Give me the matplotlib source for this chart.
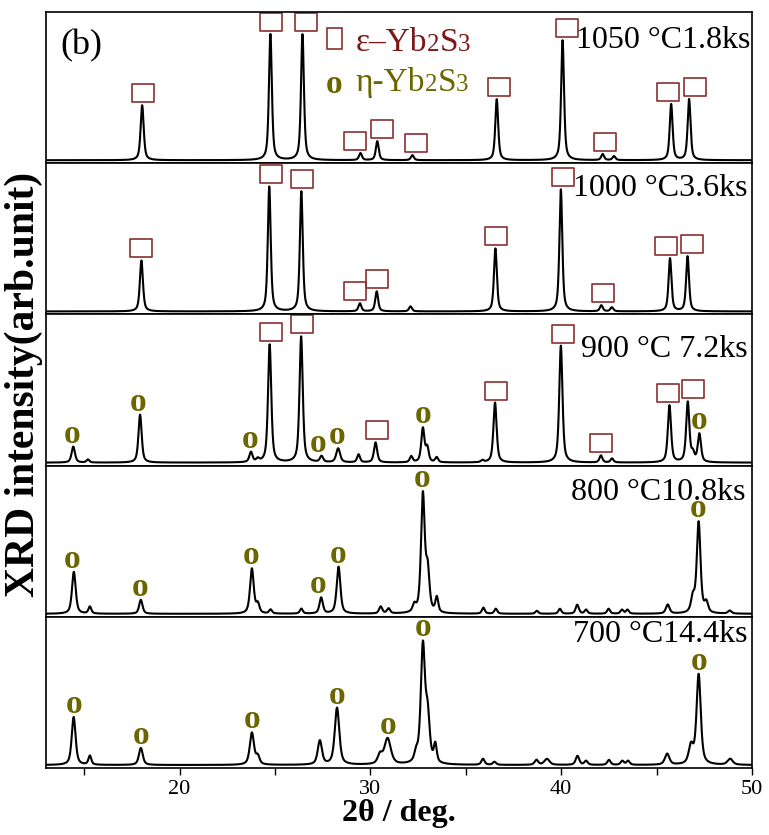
import numpy as np
import matplotlib
matplotlib.use("Agg")
from matplotlib import pyplot as plt
from matplotlib.path import Path
from matplotlib.patches import Rectangle

plt.rcParams['font.family'] = ['Liberation Serif', 'DejaVu Serif']

# sample labels, top to bottom
labels = ['1050 °C1.8ks', '1000 °C3.6ks', '900 °C 7.2ks', '800 °C10.8ks', '700 °C14.4ks']

pos_1050 = [18.04, 24.76, 26.44, 29.48, 30.36, 32.2, 36.62, 40.07, 42.17, 42.76, 45.76, 46.7]
hgt_1050 = [55, 126, 126, 7, 19, 5, 61, 120, 6, 4, 56, 61]
wid_1050 = [0.19, 0.18, 0.18, 0.18, 0.18, 0.18, 0.18, 0.18, 0.18, 0.18, 0.18, 0.18]

pos_1000 = [18.0, 24.7, 26.38, 29.45, 30.33, 32.1, 36.55, 39.98, 42.1, 42.65, 45.7, 46.62]
hgt_1000 = [51, 125, 120, 8, 20, 5, 63, 122, 6, 4, 53, 55]
wid_1000 = [0.19, 0.18, 0.18, 0.18, 0.18, 0.18, 0.18, 0.18, 0.18, 0.18, 0.18, 0.18]

pos_900 = [14.43, 15.2, 17.93, 23.74, 24.1, 24.72, 26.37, 27.44, 28.31, 29.38, 30.27, 32.14,
           32.75, 32.98, 33.47, 35.87, 36.53, 39.98, 42.08, 42.66, 45.67, 46.63, 46.9, 47.24]
hgt_900 = [16, 3, 48, 10, 3, 118, 126, 6, 14, 8, 20, 6,
           34, 14, 5, 2, 60, 117, 7, 4, 57, 60, 8, 28]
wid_900 = [0.21, 0.18, 0.2, 0.2, 0.18, 0.2, 0.2, 0.2, 0.24, 0.18, 0.2, 0.18,
           0.2, 0.18, 0.18, 0.18, 0.2, 0.2, 0.18, 0.18, 0.2, 0.2, 0.18, 0.2]

pos_800 = [14.46, 15.3, 17.97, 23.79, 24.1, 24.77, 26.38, 27.42, 28.33, 30.54, 30.95, 32.3,
           32.75, 33.0, 33.48, 35.92, 36.57, 38.72, 39.93, 40.84, 41.3, 42.48, 43.18, 43.47,
           45.58, 46.9, 47.2, 47.6, 48.83]
hgt_800 = [42, 7, 14, 45, 9, 4, 5, 16, 47, 7, 5, 7,
           118, 40, 15, 6, 5, 3, 5, 9, 4, 5, 4, 4,
           9, 15, 91, 10, 3]
wid_800 = [0.23, 0.18, 0.21, 0.23, 0.2, 0.18, 0.18, 0.21, 0.23, 0.2, 0.2, 0.2,
           0.23, 0.22, 0.18, 0.18, 0.18, 0.18, 0.18, 0.2, 0.18, 0.18, 0.18, 0.18,
           0.23, 0.23, 0.23, 0.22, 0.22]

pos_700 = [14.45, 15.3, 17.97, 23.79, 24.1, 27.35, 28.25, 30.5, 30.9, 32.4, 32.75, 33.0,
           33.4, 35.9, 36.5, 38.7, 39.25, 40.85, 41.3, 42.5, 43.2, 43.5, 45.55, 46.8,
           47.2, 48.85]
hgt_700 = [48, 9, 17, 32, 8, 24, 57, 9, 26, 9, 117, 45,
           18, 6, 3, 5, 6, 9, 4, 5, 4, 4, 11, 18,
           90, 6]
wid_700 = [0.24, 0.18, 0.24, 0.26, 0.22, 0.26, 0.28, 0.28, 0.4, 0.22, 0.26, 0.25,
           0.18, 0.2, 0.2, 0.22, 0.32, 0.22, 0.2, 0.2, 0.2, 0.2, 0.28, 0.28,
           0.26, 0.32]

# phase marks (peak angles that carry a symbol)
eps_1050 = [18.09, 24.81, 26.6, 29.17, 30.59, 32.37, 36.73, 40.3, 42.29, 45.6, 47.0]
eps_1000 = [17.99, 24.81, 26.44, 29.17, 30.32, 36.57, 40.09, 42.19, 45.49, 46.86]
eps_900 = [24.8, 26.44, 30.32, 36.57, 40.1, 42.1, 45.6, 46.9]
eta_900 = [14.38, 17.84, 23.69, 27.28, 28.23, 32.75, 47.2]
eta_800 = [14.36, 17.93, 23.76, 27.28, 28.28, 32.69, 47.17]
eta_700 = [14.45, 17.97, 23.79, 28.25, 30.9, 32.75, 47.2]

peaks = [(pos_1050, hgt_1050, wid_1050), (pos_1000, hgt_1000, wid_1000),
         (pos_900, hgt_900, wid_900), (pos_800, hgt_800, wid_800),
         (pos_700, hgt_700, wid_700)]
eps_marks = [eps_1050, eps_1000, eps_900, [], []]
eta_marks = [[], [], eta_900, eta_800, eta_700]

EPS_C = '#8a2f2f'
EPS_T = '#7a1818'
ETA_C = '#6b6600'

tth = np.linspace(13, 50, 4000)


def pattern(x, pos, hgt, wid):
    y = np.zeros_like(x)
    for p, h, w in zip(pos, hgt, wid):
        d = (x - p) / w
        y += h * (0.6 / (1 + 4 * d**2) + 0.4 * np.exp(-4 * np.log(2) * d**2))
    return y


def local_max(x, y, a, half=0.25):
    m = (x > a - half) & (x < a + half)
    return y[m].max()


def rich(ax, x, y, pieces, color):
    # text pieces side by side, smaller digits sitting on the baseline
    r = fig.canvas.get_renderer()
    for s, size in pieces:
        t = ax.text(x, y, s, transform=ax.transAxes, fontsize=size, color=color,
                    ha='left', va='baseline')
        x += t.get_window_extent(r).width / ax.bbox.width


rect_marker = Path([(-1, -0.78), (1, -0.78), (1, 0.78), (-1, 0.78), (-1, -0.78)],
                   [Path.MOVETO, Path.LINETO, Path.LINETO, Path.LINETO, Path.CLOSEPOLY])

fig, axes = plt.subplots(5, 1, figsize=(7.69, 8.35), dpi=100, sharex=True)
fig.subplots_adjust(left=0.0598, right=0.978, bottom=0.0802, top=0.9856, hspace=0)

label_xy = [(0.997, 0.813), (0.994, 0.834), (0.994, 0.767), (0.99, 0.825), (0.994, 0.885)]

for i, ax in enumerate(axes):
    pos, hgt, wid = peaks[i]
    y = pattern(tth, pos, hgt, wid)
    ax.plot(tth, y, color='black', lw=1.5)
    ax.set_ylim(-3, 148.2)
    ax.set_xlim(13, 50)
    ax.set_yticks([])
    for s in ax.spines.values():
        s.set_linewidth(1.2)
    for a in eps_marks[i]:
        ax.plot(a, local_max(tth, y, a, 0.35) + 12, marker=rect_marker, ms=16,
                mfc='none', mec=EPS_C, mew=1.2, ls='none', clip_on=False)
    for a in eta_marks[i]:
        ax.text(a, local_max(tth, y, a) + 4, 'o', ha='center', va='baseline',
                fontsize=24, fontweight='bold', color=ETA_C)
    ax.text(*label_xy[i], labels[i], transform=ax.transAxes,
            ha='right', va='center', fontsize=23)

axes[0].text(0.02, 0.78, '(b)', transform=axes[0].transAxes, ha='left', va='center', fontsize=26)

# legend made of text
axes[0].add_patch(Rectangle((0.398, 0.753), 0.021, 0.14, transform=axes[0].transAxes,
                            fill=False, ec=EPS_C, lw=1.2))
rich(axes[0], 0.438, 0.745, [('ε–Yb', 24), ('2', 18), ('S', 24), ('3', 18)], EPS_T)
axes[0].text(0.408, 0.465, 'o', transform=axes[0].transAxes, ha='center', va='baseline',
             fontsize=24, fontweight='bold', color=ETA_C)
rich(axes[0], 0.438, 0.475, [('η-Yb', 24), ('2', 18), ('S', 24), ('3', 18)], ETA_C)

ax = axes[-1]
ax.set_xticks([20, 30, 40, 50])
ax.set_xticks([15, 25, 35, 45], minor=True)
ax.tick_params(axis='x', which='both', direction='out', length=5, width=1, labelsize=16)
ax.set_xlabel('2θ / deg.', fontsize=23, fontweight='bold', labelpad=0)
for a in axes[:-1]:
    a.tick_params(axis='x', which='both', length=0)

fig.text(0.031, 0.539, 'XRD intensity(arb.unit)', rotation=90, ha='center', va='center',
         fontsize=30, fontweight='bold')

fig.savefig('out.png', dpi=100)
